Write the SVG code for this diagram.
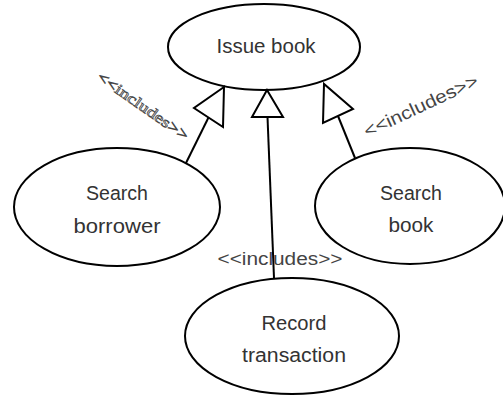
<svg xmlns="http://www.w3.org/2000/svg" width="503" height="395" viewBox="0 0 503 395">
<style>
.node ellipse{fill:#fff;stroke:#000;stroke-width:2}
.lbl{font-family:"Liberation Sans","Noto Sans",sans-serif;font-size:20px;fill:#333;text-anchor:middle}
.inc{font-family:"Liberation Sans","Noto Sans",sans-serif;font-size:18px;fill:#444;text-anchor:middle}
.incs{font-family:"Liberation Serif","DejaVu Serif",serif;font-size:15px;fill:#fff;stroke:#444;stroke-width:0.7;text-anchor:middle}
.conn line{stroke:#000;stroke-width:2}
.conn polygon{fill:#fff;stroke:#000;stroke-width:2;stroke-linejoin:miter}
</style>
<rect width="503" height="395" fill="#fff"/>
<g id="issue-book" class="node">
<ellipse cx="264" cy="47" rx="96" ry="43"/>
<text class="lbl" x="266" y="53" textLength="99" lengthAdjust="spacingAndGlyphs">Issue book</text>
</g>
<g id="search-borrower" class="node">
<ellipse cx="117" cy="207" rx="103" ry="59"/>
<text class="lbl" x="117" y="200" textLength="62" lengthAdjust="spacingAndGlyphs">Search</text>
<text class="lbl" x="117" y="233" textLength="87" lengthAdjust="spacingAndGlyphs">borrower</text>
</g>
<g id="search-book" class="node">
<ellipse cx="410" cy="206" rx="95" ry="58"/>
<text class="lbl" x="411" y="200" textLength="62" lengthAdjust="spacingAndGlyphs">Search</text>
<text class="lbl" x="411" y="232" textLength="45" lengthAdjust="spacingAndGlyphs">book</text>
</g>
<g id="record-transaction" class="node">
<ellipse cx="292" cy="336" rx="107" ry="58"/>
<text class="lbl" x="294" y="330" textLength="65" lengthAdjust="spacingAndGlyphs">Record</text>
<text class="lbl" x="294" y="362" textLength="104" lengthAdjust="spacingAndGlyphs">transaction</text>
</g>
<g id="connectors" class="conn">
<line x1="186" y1="163" x2="208.5" y2="117.5"/>
<polygon points="224,87 194,108 223,127"/>
<line x1="274" y1="278" x2="267.5" y2="117"/>
<polygon points="267,90 252,117 283,117"/>
<line x1="355" y1="158" x2="338" y2="116"/>
<polygon points="324,84 323,123 353,109"/>
</g>
<g id="labels">
<text class="incs" x="143" y="111" transform="rotate(35 143 106)" textLength="108" lengthAdjust="spacingAndGlyphs">&lt;&lt;includes&gt;&gt;</text>
<text class="inc" x="421" y="112" transform="rotate(-25 421 106)" textLength="124" lengthAdjust="spacingAndGlyphs">&lt;&lt;includes&gt;&gt;</text>
<text class="inc" x="280" y="265" textLength="125" lengthAdjust="spacingAndGlyphs">&lt;&lt;includes&gt;&gt;</text>
</g>
</svg>
